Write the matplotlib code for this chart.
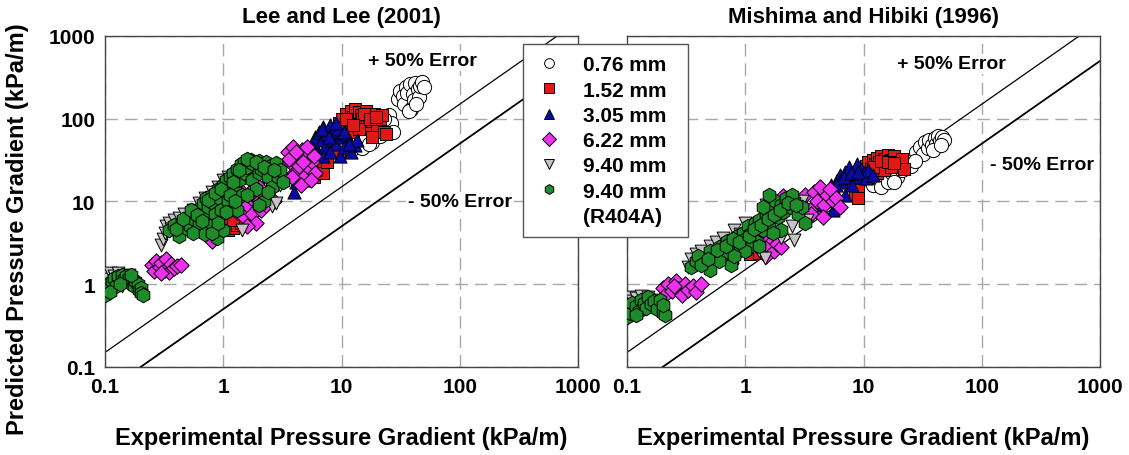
import matplotlib.pyplot as plt
from matplotlib.lines import Line2D

plt.rcParams['font.family'] = ['Liberation Sans', 'DejaVu Sans']
plt.rcParams['font.weight'] = 'bold'

# ---- Lee and Lee (2001): experimental vs predicted gradient (kPa/m) ----
lee_x_076 = [30, 31, 33, 34, 35, 36, 38, 39, 40, 41, 42, 44, 45, 46, 48, 50, 37, 43,
             12, 13, 14, 15, 16, 18, 19, 20, 21, 22, 24, 25, 26, 27, 17, 23]
lee_y_076 = [175, 215, 190, 150, 240, 205, 260, 130, 200, 170, 270, 230, 185, 250, 280, 240, 125, 150,
             42, 48, 55, 44, 60, 52, 68, 85, 62, 95, 75, 110, 88, 70, 50, 100]

lee_x_152 = [1.1, 1.15, 1.2, 1.25, 1.3, 1.35, 1.4, 1.2,
             4.4, 5.0, 5.8, 6.3, 7.0, 6.5, 7.5,
             8.5, 9, 9.5, 10, 10.5, 11, 11.5, 12, 12.5, 13, 13.5, 14, 14.5, 15, 16, 16.5,
             17, 18, 19, 20, 21, 22, 23, 24, 12, 10, 14, 8, 9.5, 18,
             15.5, 17.5, 11, 12.5, 19.5]
lee_y_152 = [4.5, 5.8, 4.8, 6.5, 5.2, 7.0, 5.5, 6.0,
             24, 20, 20, 27, 22, 35, 30,
             55, 75, 90, 100, 80, 115, 95, 125, 105, 130, 90, 120, 110, 100, 125, 85,
             110, 95, 115, 80, 100, 110, 70, 65, 70, 60, 75, 45, 40, 60,
             115, 100, 100, 85, 105]

lee_x_305 = [4.0, 4.1, 4.5, 4.8, 5.0, 5.3, 5.5, 5.8, 6.0, 6.2, 6.5, 6.8, 7.0, 7.3, 7.5, 8.0,
             8.3, 8.5, 9.0, 9.3, 9.7, 10, 10.5, 11, 12, 13, 13.5, 7.0, 8, 6, 5.5, 9,
             6.8, 7.8, 10.5, 11.5, 5.0]
lee_y_305 = [13, 17, 22, 18, 28, 40, 32, 50, 60, 38, 70, 55, 80, 45, 65, 85,
             55, 70, 50, 75, 35, 60, 45, 65, 40, 48, 55, 35, 40, 25, 45, 90,
             75, 60, 70, 50, 35]

lee_x_622 = [0.25, 0.26, 0.27, 0.29, 0.3, 0.32, 0.33, 0.35, 0.36, 0.38, 0.41, 0.44, 0.3,
             0.8, 1.3, 1.4, 1.45, 1.5, 1.6, 1.7, 1.75, 1.8, 1.9, 2.0, 2.1, 2.2, 2.3, 2.5, 2.7, 1.6, 2.0,
             3.5, 3.7, 3.9, 4.0, 4.2, 4.4, 4.6, 4.8, 5.0, 5.2, 5.4, 5.6, 5.8, 6.0, 3.8, 4.5,
             3.6, 4.1, 4.7, 5.1, 5.5]
lee_y_622 = [1.7, 1.45, 1.9, 1.6, 1.8, 1.5, 2.0, 1.4, 1.75, 1.55, 1.65, 1.7, 1.35,
             3.3, 7.5, 10, 13, 6.5, 9, 11, 7, 14, 5.5, 10, 8, 12, 9, 11, 10, 5.0, 15,
             40, 30, 46, 22, 35, 27, 42, 20, 32, 38, 25, 30, 35, 22, 20, 16,
             33, 40, 30, 45, 18]

lee_x_940 = [0.1, 0.1, 0.105, 0.11, 0.12, 0.13, 0.14, 0.15, 0.16, 0.125,
             0.3, 0.31, 0.32, 0.33, 0.35, 0.38, 0.42, 0.47, 0.55, 0.62, 0.7, 0.8, 0.9, 1.0,
             1.1, 1.3, 1.45, 1.5, 2.6, 2.4, 2.8, 1.0, 0.75, 3.0, 1.8, 2.2,
             0.36, 0.5, 1.2, 1.65]
lee_y_940 = [1.3, 1.0, 1.15, 1.35, 1.25, 1.35, 0.95, 1.1, 1.3, 1.0,
             3.0, 3.5, 4.2, 5.0, 5.5, 6.0, 6.3, 7.0, 8.0, 9.5, 11, 13, 15, 18,
             20, 14, 4.5, 22, 8.8, 11, 9.5, 8.5, 6.0, 16, 25, 20,
             4.6, 5.8, 16, 20]

lee_x_r404a = [0.1, 0.1, 0.105, 0.11, 0.115, 0.12, 0.125, 0.13, 0.14, 0.145, 0.15, 0.155,
               0.16, 0.17, 0.175, 0.18, 0.19, 0.195, 0.2, 0.2, 0.21, 0.11, 0.135, 0.165,
               0.35, 0.38, 0.42, 0.45, 0.48, 0.5, 0.52, 0.55, 0.58, 0.6, 0.62, 0.65, 0.68,
               0.7, 0.72, 0.75, 0.78, 0.8, 0.82, 0.85, 0.88, 0.9, 0.92, 0.95, 1.0, 1.0,
               1.05, 1.1, 1.1, 1.15, 1.2, 1.25, 1.3, 1.35, 1.4, 1.45, 1.5, 1.5, 1.6, 1.7,
               1.75, 1.8, 1.9, 2.0, 2.0, 2.1, 2.2, 2.3, 2.4, 2.5, 2.6, 2.8, 2.9, 3.0,
               1.3, 1.6, 2.0, 3.2, 0.55, 0.7,
               0.4, 0.46, 0.53, 0.6, 0.66, 0.75, 0.85, 0.95, 1.2, 1.35, 1.6, 1.9, 2.2,
               2.7, 1.05, 1.15, 2.4, 0.8, 0.9, 1.25]
lee_y_r404a = [0.75, 0.85, 1.0, 0.9, 1.1, 1.2, 0.95, 1.25, 1.3, 1.15, 1.25, 1.05,
               1.2, 1.15, 0.95, 1.1, 1.0, 0.85, 0.9, 0.78, 0.75, 0.8, 1.0, 1.3,
               4.5, 5.2, 3.8, 5.5, 4.8, 6.5, 5.0, 7.0, 6.0, 8.0, 5.5, 7.5, 9.5,
               6.5, 11, 8.5, 5.0, 12, 9.5, 7, 3.6, 14, 11, 8, 16, 4.5,
               18, 13, 10, 20, 22, 15, 25, 18, 28, 12, 30, 22, 26, 32,
               18, 28, 14, 31, 22, 25, 10, 30, 20, 27, 15, 29, 20, 24,
               8, 12, 9, 17, 4.2, 4.0,
               4.6, 6.2, 7.8, 6.8, 5.8, 10.5, 12.5, 14, 17, 24, 33, 30, 26,
               24, 7.5, 12, 13, 4.2, 5.5, 10]

# ---- Mishima and Hibiki (1996) ----
mh_x_076 = [28, 30, 32, 33, 35, 36, 38, 40, 41, 43, 44, 46, 48, 39, 45,
            12, 13, 14, 15, 16, 17, 19, 20, 21, 23, 25, 27, 18]
mh_y_076 = [40, 46, 38, 52, 44, 56, 48, 58, 50, 62, 54, 60, 56, 42, 48,
            16, 19, 15, 21, 17, 23, 20, 26, 24, 28, 27, 31, 17]

mh_x_152 = [1.1, 1.2, 1.3,
            8.5, 9, 9.5, 10, 10.5, 11, 11.5, 12, 12.5, 13, 13.5, 14, 15, 15.5, 16, 17,
            18, 19, 20, 21, 22, 13, 15, 17, 11, 9,
            12, 14, 16, 18, 10]
mh_y_152 = [2.3, 2.8, 2.4,
            12, 15, 19, 23, 27, 30, 25, 32, 28, 34, 30, 35, 33, 28, 36, 32,
            35, 30, 27, 33, 25, 22, 24, 26, 20, 11,
            26, 31, 30, 29, 21]

mh_x_305 = [4.2, 4.6, 5.0, 5.3, 5.6, 6.0, 6.3, 6.6, 7.0, 7.3, 7.6, 8.0, 8.4, 8.8,
            9.2, 9.6, 10, 10.5, 11, 12, 6, 7, 5.5, 8,
            6.8, 7.8, 9, 5.8]
mh_y_305 = [9, 11, 13, 16, 14, 18, 21, 17, 23, 19, 26, 21, 24, 28,
            20, 25, 22, 19, 24, 21, 9, 12, 8, 16,
            20, 22, 23, 16]

mh_x_622 = [0.2, 0.21, 0.22, 0.24, 0.26, 0.27, 0.29, 0.31, 0.33, 0.36, 0.38, 0.42, 0.25,
            0.75, 1.35, 1.4, 1.5, 1.55, 1.65, 1.75, 1.85, 2.0, 1.45, 2.1, 1.2,
            3.0, 3.2, 3.5, 3.8, 4.0, 4.3, 4.6, 4.9, 5.2, 5.5, 5.9, 6.3, 3.6, 4.5]
mh_y_622 = [0.9, 0.75, 1.0, 0.82, 1.1, 0.88, 0.75, 1.0, 0.85, 0.95, 0.8, 1.0, 0.95,
            1.8, 2.6, 3.2, 2.2, 2.9, 3.6, 2.5, 3.1, 2.8, 4.0, 11.5, 3.6,
            9, 12, 8, 13, 10, 15, 9, 12, 14, 10, 11, 8.5, 7, 6.5]

mh_x_940 = [0.1, 0.1, 0.105, 0.11, 0.12, 0.13, 0.14, 0.15, 0.16,
            0.33, 0.35, 0.38, 0.42, 0.46, 0.5, 0.56, 0.65, 0.72, 0.8, 0.9, 1.0, 1.2,
            1.3, 1.46, 2.0, 2.6, 2.5, 3.3, 1.5, 2.2, 3.0]
mh_y_940 = [0.65, 0.55, 0.7, 0.62, 0.68, 0.72, 0.6, 0.7, 0.64,
            1.6, 2.0, 2.3, 2.5, 2.1, 2.9, 3.2, 3.6, 3.0, 4.5, 4.0, 5.5, 4.8,
            2.5, 2.05, 3.6, 3.4, 5.0, 6, 9, 7.5, 10]

mh_x_r404a = [0.1, 0.1, 0.105, 0.11, 0.12, 0.125, 0.13, 0.14, 0.145, 0.15, 0.16, 0.17,
              0.18, 0.19, 0.2, 0.21, 0.2, 0.12,
              0.35, 0.38, 0.4, 0.45, 0.5, 0.55, 0.6, 0.65, 0.7, 0.75, 0.8, 0.85, 0.9,
              0.95, 1.0, 1.05, 1.1, 1.2, 1.25, 1.3, 1.4, 1.5, 1.6, 1.7, 1.8, 1.9, 2.0,
              2.1, 2.2, 2.4, 2.6, 2.8, 3.0, 3.2, 1.6, 2.5, 0.6, 1.15, 0.5, 1.0, 2.0, 1.4,
              0.42, 0.48, 0.58, 0.68, 0.78, 0.88, 1.08, 1.18, 1.35, 1.55, 1.75, 1.95,
              2.3, 2.7, 0.8, 1.3, 1.7]
mh_y_r404a = [0.4, 0.5, 0.45, 0.6, 0.55, 0.47, 0.65, 0.6, 0.52, 0.7, 0.58, 0.62,
              0.5, 0.65, 0.45, 0.42, 0.56, 0.42,
              1.6, 1.9, 2.2, 1.8, 2.5, 2.1, 2.8, 2.4, 3.3, 1.7, 3.0, 3.8, 2.6,
              4.2, 3.5, 5.0, 4.0, 5.5, 3.2, 6.0, 4.5, 7, 5.5, 8, 10, 6.5, 9,
              7.5, 11, 8.5, 10, 7, 8.5, 5.5, 12, 12, 1.9, 3.0, 1.5, 2.5, 4.5, 8.5,
              1.7, 2.0, 2.6, 2.9, 3.5, 3.2, 3.8, 4.6, 5.2, 6.2, 6.8, 8.0,
              9.5, 9, 2.2, 2.9, 4.2]

labels = ['0.76 mm', '1.52 mm', '3.05 mm', '6.22 mm', '9.40 mm', '9.40 mm']
markers = ['o', 's', '^', 'D', 'v', 'h']
faces = ['white', '#e01818', '#0a0aa8', '#f030f0', '#c4c4c4', '#1e8c28']
sizes = [105, 75, 90, 62, 85, 110]

lee = [(lee_x_076, lee_y_076), (lee_x_152, lee_y_152), (lee_x_305, lee_y_305),
       (lee_x_622, lee_y_622), (lee_x_940, lee_y_940), (lee_x_r404a, lee_y_r404a)]
mh = [(mh_x_076, mh_y_076), (mh_x_152, mh_y_152), (mh_x_305, mh_y_305),
      (mh_x_622, mh_y_622), (mh_x_940, mh_y_940), (mh_x_r404a, mh_y_r404a)]

ticks = [0.1, 1, 10, 100, 1000]
tick_text = ['0.1', '1', '10', '100', '1000']
bounds = [0.1, 1000]


def panel(ax, data, title, plus_pos, minus_pos):
    for (x, y), m, fc, s in zip(data, markers, faces, sizes):
        ax.scatter(x, y, marker=m, s=s, c=fc, edgecolors='black', linewidths=0.7, zorder=3)
    # +/- 50 % error bands
    ax.plot(bounds, [1.5 * b for b in bounds], color='black', lw=0.9, zorder=2)
    ax.plot(bounds, [0.5 * b for b in bounds], color='black', lw=1.3, zorder=2)
    ax.set_xscale('log')
    ax.set_yscale('log')
    ax.set_xlim(bounds)
    ax.set_ylim(bounds)
    ax.set_xticks(ticks)
    ax.set_xticklabels(tick_text)
    ax.set_yticks(ticks)
    ax.set_yticklabels(tick_text)
    ax.minorticks_off()
    ax.grid(True, color='#a8a8a8', linestyle=(0, (9, 5)), lw=1.0, zorder=0)
    ax.set_axisbelow(True)
    ax.tick_params(length=0, labelsize=15, pad=7)
    for sp in ax.spines.values():
        sp.set_color('#444444')
        sp.set_linewidth(1.0)
    ax.set_title(title, fontsize=16, fontweight='bold', pad=10)
    ax.set_xlabel('Experimental Pressure Gradient (kPa/m)', fontsize=17, fontweight='bold', labelpad=22)
    box = dict(facecolor='white', edgecolor='none', pad=1)
    ax.text(*plus_pos, '+ 50% Error', fontsize=14, ha='center', va='center', bbox=box, zorder=4)
    ax.text(*minus_pos, '- 50% Error', fontsize=14, ha='center', va='center', bbox=box, zorder=4)


fig = plt.figure(figsize=(11.29, 4.56), dpi=100)
ax1 = fig.add_axes([0.0930, 0.1930, 0.4190, 0.7259])
ax2 = fig.add_axes([0.5554, 0.1930, 0.4190, 0.7259])

panel(ax1, lee, 'Lee and Lee (2001)', (48, 500), (100, 10))
panel(ax2, mh, 'Mishima and Hibiki (1996)', (55, 460), (320, 28))
ax2.tick_params(labelleft=False)

ax1.set_ylabel('Predicted Pressure Gradient (kPa/m)', fontsize=17, fontweight='bold')
ax1.yaxis.set_label_coords(-0.16, 0.42)

handles = [Line2D([], [], ls='none', marker=m, ms=7, mfc=fc, mec='black', mew=0.7)
           for m, fc in zip(markers, faces)]
handles.append(Line2D([], [], ls='none'))
leg = fig.legend(handles, labels + ['(R404A)'], loc='upper left',
                 bbox_to_anchor=(523 / 1129, 1 - 235 / 456, 165 / 1129, 190 / 456),
                 mode='expand', borderaxespad=0, fancybox=False, framealpha=1,
                 edgecolor='#555555', fontsize=15, labelspacing=0.3,
                 handlelength=1.35, handletextpad=1.0, borderpad=0.55)
leg.get_frame().set_linewidth(1.0)

fig.savefig('out.png', dpi=100)
